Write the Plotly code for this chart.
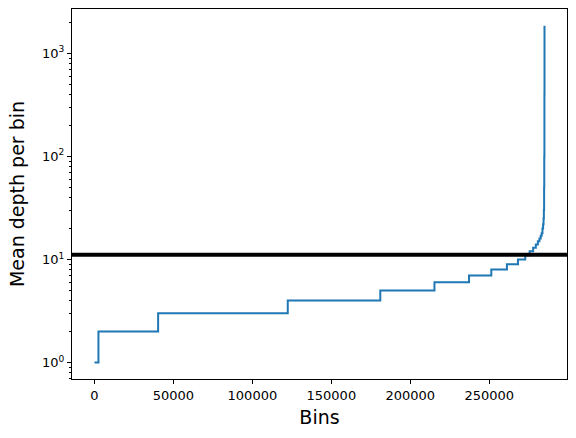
import plotly.graph_objects as go

# Sorted mean depth per bin (step breakpoints)
bin_start = [0, 2500, 40300, 122400, 181000, 215300, 237200, 251300, 261200, 268200,
             272800, 275600, 277800, 279500, 280800, 281800, 282600, 283200, 283700,
             284100, 284400, 284600, 284750, 284850, 284950, 285000]
depth = [1, 2, 3, 4, 5, 6, 7, 8, 9, 10,
         11, 12, 13, 14, 15, 16, 17, 18, 20,
         22, 25, 30, 50, 100, 400, 1850]
mean_depth = 11.1

y_tickvals = [1, 10, 100, 1000]
y_ticktext = ["10<sup>0</sup>", "10<sup>1</sup>", "10<sup>2</sup>", "10<sup>3</sup>"]
y_minorvals = [0.7, 0.8, 0.9] + [m * d for d in (1, 10, 100) for m in range(2, 10)] + [2000]
x_tickvals = [0, 50000, 100000, 150000, 200000, 250000]

fig = go.Figure()
fig.add_trace(go.Scatter(x=bin_start, y=depth, mode="lines", line_shape="hv",
                         line=dict(color="#1f77b4", width=2), showlegend=False))
fig.add_hline(y=mean_depth, line=dict(color="black", width=4))

font = "DejaVu Sans"
fig.update_layout(
    width=576, height=438,
    margin=dict(l=72, r=9, t=9, b=59),
    paper_bgcolor="white", plot_bgcolor="white",
    font=dict(family=font, size=13, color="black"),
)
fig.update_xaxes(
    range=[-14250, 299250], tickvals=x_tickvals, ticktext=[str(v) for v in x_tickvals],
    ticks="outside", ticklen=4, tickcolor="black", showgrid=False, zeroline=False,
    showline=True, linecolor="black", linewidth=1, mirror=True,
    title=dict(text="Bins", font=dict(size=19, family=font), standoff=9),
)
fig.update_yaxes(
    type="log", range=[-0.16, 3.43], tickvals=y_tickvals, ticktext=y_ticktext,
    ticks="outside", ticklen=4, tickcolor="black", showgrid=False, zeroline=False,
    showline=True, linecolor="black", linewidth=1, mirror=True,
    minor=dict(tickvals=y_minorvals, ticks="outside", ticklen=2, tickcolor="black",
               showgrid=False),
    title=dict(text="Mean depth per bin", font=dict(size=19, family=font), standoff=12),
)
fig.write_html("out.html")
